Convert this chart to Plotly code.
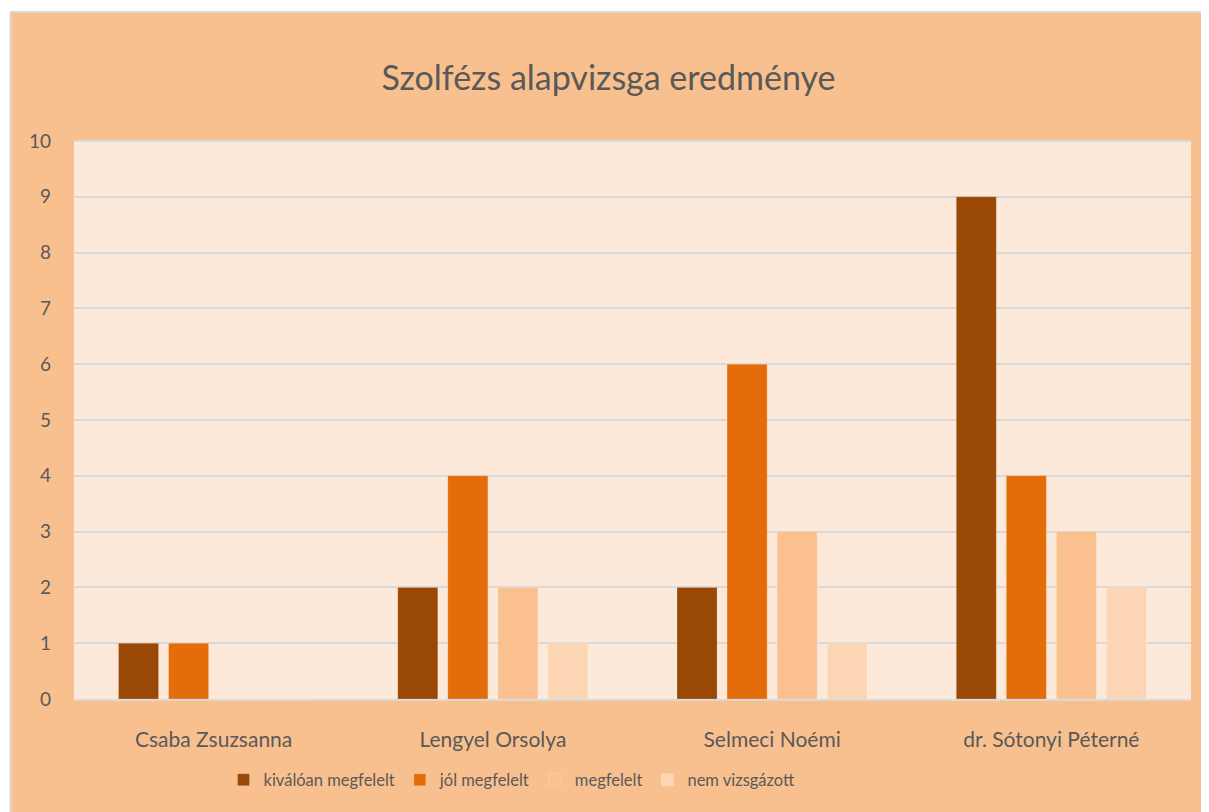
import plotly.graph_objects as go

categories = ["Csaba Zsuzsanna", "Lengyel Orsolya", "Selmeci Noémi", "dr. Sótonyi Péterné"]
series_names = ["kiválóan megfelelt", "jól megfelelt", "megfelelt", "nem vizsgázott"]
kivaloan = [1, 2, 2, 9]
jol = [1, 4, 6, 4]
megfelelt = [0, 2, 3, 3]
nem_vizsgazott = [0, 1, 1, 2]
series_values = [kivaloan, jol, megfelelt, nem_vizsgazott]
colors = ["#994806", "#E46C0A", "#FAC090", "#FCD5B5"]
y_ticks = list(range(0, 11))

FONT = "Lato"
TXT = "#595959"

fig = go.Figure()
for name, vals, col in zip(series_names, series_values, colors):
    fig.add_trace(go.Bar(
        x=categories, y=vals, name=name,
        marker=dict(color=col, line=dict(color="rgba(255,255,255,0.25)", width=0.8)),
    ))

# page has an 8px body margin; figure sized to fit the 1209x812 window
OFF = 8
W, H = 1209 - OFF, 812 - OFF
L, R, T, B = 74 - OFF, 18, 141 - OFF, 113
pw, ph = W - L - R, H - T - B

def px_x(px):
    return (px - OFF - L) / pw

def px_y(py):
    return (H - B - (py - OFF)) / ph

# white page margin strips + light grey chart border (top / left)
fig.add_shape(type="rect", xref="paper", yref="paper",
              x0=px_x(-20), x1=px_x(10), y0=px_y(900), y1=px_y(-20),
              fillcolor="#FFFFFF", line=dict(width=0), layer="above")
fig.add_shape(type="rect", xref="paper", yref="paper",
              x0=px_x(-20), x1=px_x(1300), y0=px_y(12), y1=px_y(-20),
              fillcolor="#FFFFFF", line=dict(width=0), layer="above")
fig.add_shape(type="line", xref="paper", yref="paper",
              x0=px_x(10.5), x1=px_x(10.5), y0=px_y(900), y1=px_y(11.5),
              line=dict(color="#D9D9D9", width=2), layer="above")
fig.add_shape(type="line", xref="paper", yref="paper",
              x0=px_x(10.5), x1=px_x(1300), y0=px_y(12), y1=px_y(12),
              line=dict(color="#D9D9D9", width=2), layer="above")

fig.update_layout(
    width=W, height=H,
    margin=dict(l=L, r=R, t=T, b=B, pad=0, autoexpand=False),
    paper_bgcolor="#F9C08F",
    plot_bgcolor="#FDE9DA",
    barmode="group",
    bargap=0.283,
    bargroupgap=0.2,
    title=dict(text="Szolfézs alapvizsga eredménye", x=0.5, xanchor="center",
               xref="container", y=1 - (78 - OFF) / H, yanchor="middle", yref="container",
               font=dict(family=FONT, size=34, color=TXT)),
    font=dict(family=FONT, color=TXT),
    showlegend=True,
    legend=dict(orientation="h", x=(512 - OFF) / W, xanchor="center", xref="container",
                y=1 - (780 - OFF) / H, yanchor="middle", yref="container",
                font=dict(family=FONT, size=16.5, color=TXT),
                bgcolor="rgba(0,0,0,0)", itemwidth=30, traceorder="normal"),
    xaxis=dict(showgrid=False, ticks="outside", ticklen=0, tickcolor="rgba(0,0,0,0)",
               ticklabelstandoff=21, tickfont=dict(family=FONT, size=21, color=TXT),
               showline=True, linecolor="#D9D9D9", linewidth=2, automargin=False),
    yaxis=dict(range=[0, 10], tickvals=y_ticks, showgrid=True, gridcolor="#D9D9D9",
               gridwidth=2, zeroline=False, ticklabelstandoff=22, automargin=False,
               tickfont=dict(family=FONT, size=19, color=TXT), showline=False),
)
fig.add_shape(type="line", xref="paper", yref="paper", x0=0, x1=1, y0=1, y1=1,
              line=dict(color="#D9D9D9", width=2))

fig.write_html("out.html")
